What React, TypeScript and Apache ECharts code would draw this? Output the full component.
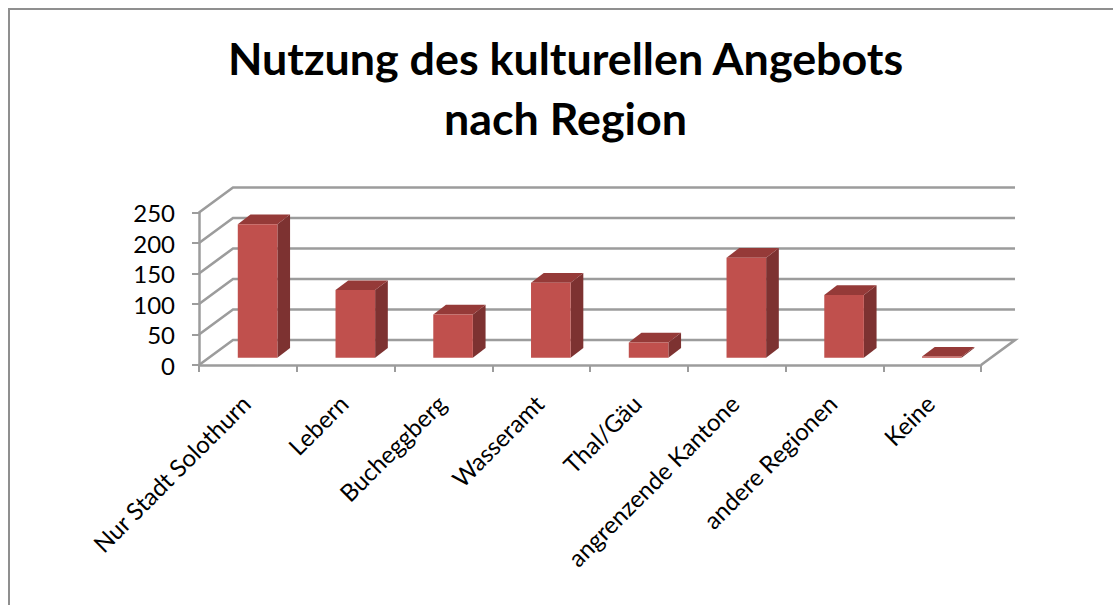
import React, { useEffect, useRef } from "react";
import * as echarts from "echarts";

const titleText = "Nutzung des kulturellen Angebots\nnach Region";
const categories = ["Nur Stadt Solothurn", "Lebern", "Bucheggberg", "Wasseramt", "Thal/Gäu", "angrenzende Kantone", "andere Regionen", "Keine"];
const values = [219, 111, 71, 123, 25, 164, 103, 2];
const yTicks = [0, 50, 100, 150, 200, 250];

const FONT = "Lato";
const AXIS = "#9c9c9c";
const DEPTH_X = 34;
const DEPTH_Y = -25;

export default function App() {
  const ref = useRef<HTMLDivElement>(null);
  useEffect(() => {
    const chart = echarts.init(ref.current!, null, { renderer: "svg" });
    chart.setOption({
      animation: false,
      backgroundColor: "#ffffff",
      title: {
        text: titleText,
        left: 560.5,
        top: 23,
        textAlign: "center",
        textStyle: { fontFamily: FONT, fontWeight: "bold", fontSize: 44.8, lineHeight: 60, color: "#000" },
      },
      graphic: [
        {
          type: "polyline",
          shape: { points: [[9, 605], [9, 9], [1113, 9]] },
          style: { stroke: "#8f8f8f", lineWidth: 2, fill: "none" },
        },
      ],
      grid: { left: 199, right: 132, top: 212.5, bottom: 240 },
      xAxis: {
        type: "category",
        data: categories,
        axisLine: { show: true, lineStyle: { color: AXIS, width: 2.5 } },
        axisTick: { show: true, alignWithLabel: false, length: 7, lineStyle: { color: AXIS, width: 2 } },
        axisLabel: { interval: 0, rotate: 45, margin: 32, padding: [0, 3, 0, 0], fontFamily: FONT, fontSize: 24, color: "#000" },
        splitLine: { show: false },
      },
      yAxis: {
        type: "value",
        min: 0,
        max: 250,
        interval: 50,
        axisLine: { show: true, lineStyle: { color: AXIS, width: 2.5 } },
        axisTick: { show: true, length: 7, lineStyle: { color: AXIS, width: 2 } },
        axisLabel: { margin: 24, fontFamily: FONT, fontSize: 24, color: "#000" },
        splitLine: { show: false },
      },
      series: [
        {
          type: "custom",
          name: "Wände",
          silent: true,
          z: 1,
          data: yTicks.map((v) => [0, v]),
          renderItem: (_p: any, api: any) => {
            const v = api.value(1);
            const bw = api.size([1, 0])[0];
            const a = api.coord([0, v]);
            const b = api.coord([categories.length - 1, v]);
            const xl = a[0] - bw / 2;
            const xr = b[0] + bw / 2;
            const pts = [[xl, a[1]], [xl + DEPTH_X, a[1] + DEPTH_Y], [xr + DEPTH_X, a[1] + DEPTH_Y]];
            if (v === 0) pts.push([xr, a[1]]);
            return {
              type: "polyline",
              shape: { points: pts },
              style: { stroke: AXIS, lineWidth: 2.6, fill: "none" },
            };
          },
        },
        {
          type: "custom",
          name: "Nutzung",
          z: 2,
          data: values.map((v, i) => [i, v]),
          renderItem: (_p: any, api: any) => {
            const i = api.value(0);
            const v = api.value(1);
            const bw = api.size([1, 0])[0];
            const w = bw * 0.405;
            const base = api.coord([i, 0]);
            const top = api.coord([i, v]);
            const ox = 9.7;
            const oy = -7.2;
            const dx = 12.7;
            const dy = -9.7;
            const x0 = base[0] + ox - w / 2;
            const x1 = x0 + w;
            const yb = base[1] + oy;
            const yt = top[1] + oy;
            return {
              type: "group",
              children: [
                {
                  type: "polygon",
                  shape: { points: [[x1, yb], [x1 + dx, yb + dy], [x1 + dx, yt + dy], [x1, yt]] },
                  style: { fill: "#7d3231", stroke: "none" },
                },
                {
                  type: "polygon",
                  shape: { points: [[x0, yt], [x1, yt], [x1 + dx, yt + dy], [x0 + dx, yt + dy]] },
                  style: { fill: "#953a38", stroke: "none" },
                },
                {
                  type: "rect",
                  shape: { x: x0, y: yt, width: w, height: yb - yt },
                  style: { fill: "#c0504d", stroke: "none" },
                },
              ],
            };
          },
        },
      ],
    });
    return () => chart.dispose();
  }, []);
  return <div ref={ref} style={{ position: "fixed", left: 0, top: 0, width: 1113, height: 605 }} />;
}
